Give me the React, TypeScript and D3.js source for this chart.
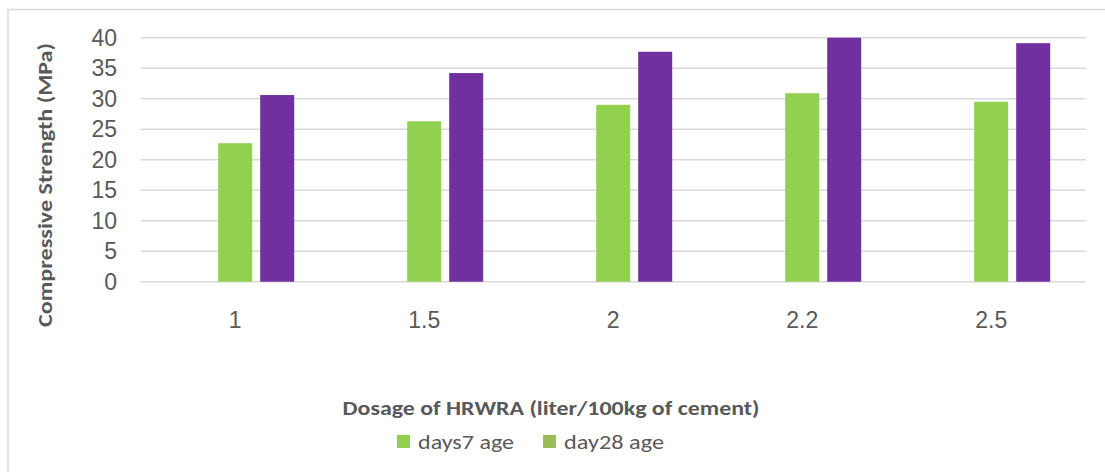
import React from "react";
import * as d3 from "d3";

const categories = ["1", "1.5", "2", "2.2", "2.5"];
const days7 = [22.7, 26.3, 29.0, 30.9, 29.5];
const day28 = [30.6, 34.2, 37.7, 40.0, 39.1];
const yTicks = [0, 5, 10, 15, 20, 25, 30, 35, 40];
const subgroups = ["blank", "days7", "day28"];
const legendItems = [
  { label: "days7 age", color: "#92d050" },
  { label: "day28 age", color: "#9bbb59" },
];

const W = 1105;
const H = 472;
const left = 140.7;
const right = 1085.7;
const top = 37.7;
const bottom = 281.7;
const textColor = "#595959";
const calibri = "Carlito, Lato, 'Open Sans', sans-serif";
const arial = "'Liberation Sans', Arial, sans-serif";

export default function App() {
  const x = d3.scaleBand<string>().domain(categories).range([left, right]);
  const xs = d3
    .scaleBand<string>()
    .domain(subgroups)
    .range([0, x.bandwidth()])
    .paddingInner(0.19)
    .paddingOuter(0.845);
  const y = d3.scaleLinear().domain([0, 40]).range([bottom, top]);

  const colors: Record<string, string> = { days7: "#92d050", day28: "#7030a0" };
  const seriesData: Record<string, number[]> = { days7, day28 };

  return (
    <svg
      width={W}
      height={H}
      style={{ position: "absolute", left: 0, top: 0, background: "#fff" }}
    >
      <rect x={0} y={0} width={W} height={H} fill="#fff" />
      <rect x={8} y={9.5} width={1200} height={600} fill="none" stroke="#d9d9d9" strokeWidth={1.5} />
      {yTicks.map((t) => (
        <g key={t}>
          <line x1={left} x2={right} y1={y(t)} y2={y(t)} stroke="#d9d9d9" strokeWidth={1.5} />
          <text
            x={117}
            y={y(t)}
            dy="0.36em"
            textAnchor="end"
            fontFamily={arial}
            fontSize={23}
            fill={textColor}
          >
            {t}
          </text>
        </g>
      ))}
      {categories.map((c, i) => (
        <g key={c}>
          {["days7", "day28"].map((s) => {
            const v = seriesData[s][i];
            return (
              <rect
                key={s}
                x={(x(c) as number) + (xs(s) as number)}
                y={y(v)}
                width={xs.bandwidth()}
                height={y(0) - y(v)}
                fill={colors[s]}
              />
            );
          })}
          <text
            x={(x(c) as number) + x.bandwidth() / 2}
            y={320}
            dy="0.36em"
            textAnchor="middle"
            fontFamily={arial}
            fontSize={23}
            fill={textColor}
          >
            {c}
          </text>
        </g>
      ))}
      <text
        transform={`translate(45,185) rotate(-90)`}
        textAnchor="middle"
        dy="0.36em"
        fontFamily={calibri}
        fontWeight="bold"
        fontSize={20}
        textLength={284}
        lengthAdjust="spacingAndGlyphs"
        fill={textColor}
      >
        Compressive Strength (MPa)
      </text>
      <text
        x={551}
        y={407}
        dy="0.36em"
        textAnchor="middle"
        fontFamily={calibri}
        fontWeight="bold"
        fontSize={21}
        textLength={417}
        lengthAdjust="spacingAndGlyphs"
        fill={textColor}
      >
        Dosage of HRWRA (liter/100kg of cement)
      </text>
      {legendItems.map((l, i) => {
        const lx = [397, 543][i];
        const tl = [96, 100][i];
        return (
          <g key={l.label}>
            <rect x={lx} y={435} width={13} height={13} fill={l.color} />
            <text
              x={lx + 21}
              y={441.5}
              dy="0.36em"
              fontFamily={calibri}
              fontSize={21}
              textLength={tl}
              lengthAdjust="spacingAndGlyphs"
              fill={textColor}
            >
              {l.label}
            </text>
          </g>
        );
      })}
    </svg>
  );
}
